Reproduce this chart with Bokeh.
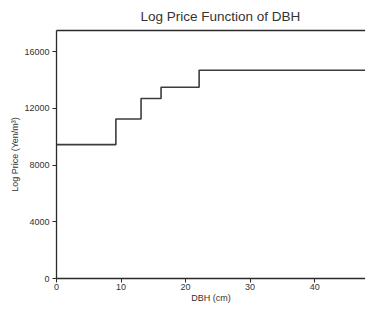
from bokeh.plotting import figure
from bokeh.models import Range1d, LinearAxis, FixedTicker
from bokeh.embed import file_html
from bokeh.resources import INLINE

# Data
dbh_breaks = [0, 9.2, 13.1, 16.2, 22.1, 50]
log_price = [9450, 11250, 12700, 13500, 14700, 14700]
x_ticks = [0, 10, 20, 30, 40]
y_ticks = [0, 4000, 8000, 12000, 16000]

FONT = "Liberation Sans"
TXT = "#333333"
AX = "#2a2a2a"

p = figure(width=358, height=305, output_backend="svg", toolbar_location=None,
           x_range=Range1d(0, 47.88), y_range=Range1d(0, 17500),
           margin=(0, 0, 0, 7),
           min_border_left=0, min_border_right=0, min_border_top=0, min_border_bottom=0)

p.title.text = "Log Price Function of DBH"
p.title.text_font = FONT
p.title.text_font_size = "13.5px"
p.title.text_font_style = "normal"
p.title.text_color = TXT
p.title.align = "left"
p.title.offset = 84
p.title.standoff = 13

p.outline_line_color = None
p.xgrid.visible = False
p.ygrid.visible = False
p.background_fill_color = "white"
p.border_fill_color = "white"

p.step(dbh_breaks, log_price, mode="after", line_color="#3c3c3c", line_width=1.6)

for ax in (p.xaxis[0], p.yaxis[0]):
    ax.axis_line_color = AX
    ax.axis_line_width = 1.3
    ax.major_tick_line_color = AX
    ax.major_tick_out = 4
    ax.major_tick_in = 0
    ax.minor_tick_line_color = None
    ax.major_label_text_font = FONT
    ax.major_label_text_font_size = "9px"
    ax.major_label_text_line_height = 1.0
    ax.major_label_text_color = TXT
    ax.axis_label_text_font = FONT
    ax.axis_label_text_font_size = "9px"
    ax.axis_label_text_line_height = 1.0
    ax.axis_label_text_font_style = "normal"
    ax.axis_label_text_color = TXT

p.xaxis.ticker = FixedTicker(ticks=x_ticks)
p.yaxis.ticker = FixedTicker(ticks=y_ticks)
p.xaxis.axis_label = "DBH (cm)"
p.yaxis.axis_label = "Log Price (Yen/m³)"
p.xaxis.major_label_standoff = 1
p.yaxis.major_label_standoff = 3
p.xaxis.axis_label_standoff = 0
p.yaxis.axis_label_standoff = 1

top = LinearAxis(ticker=FixedTicker(ticks=[]), axis_line_color=AX, axis_line_width=1.3,
                 major_tick_line_color=None, minor_tick_line_color=None,
                 major_tick_out=0, major_tick_in=0,
                 major_label_text_font_size="0px")
p.add_layout(top, "above")

open("out.html", "w").write(file_html(p, INLINE))
